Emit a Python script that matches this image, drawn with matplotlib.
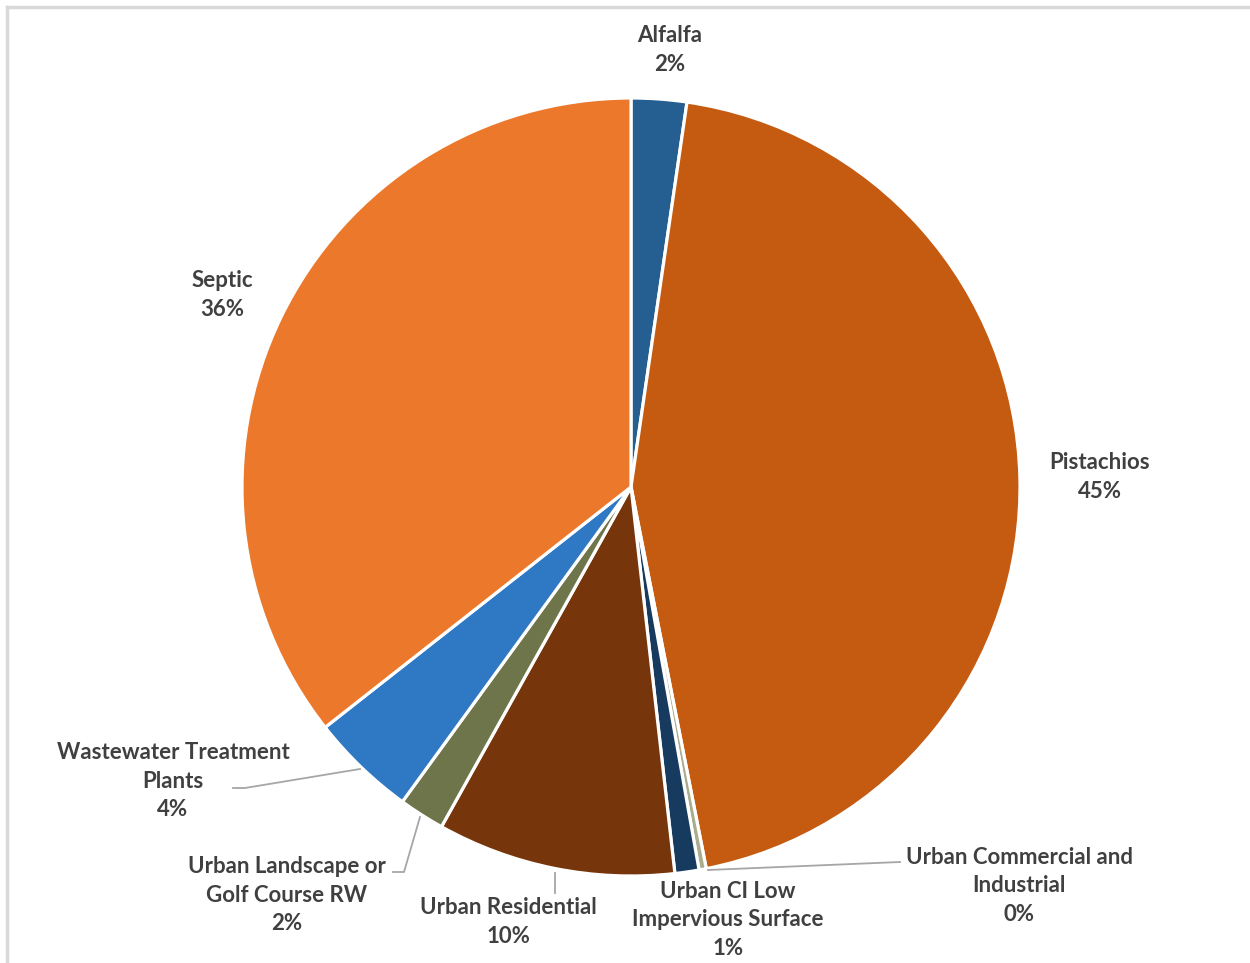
import matplotlib.pyplot as plt
from matplotlib.lines import Line2D

# data (percent share)
categories = ["Alfalfa", "Pistachios", "Urban Commercial and\nIndustrial",
              "Urban CI Low\nImpervious Surface", "Urban Residential",
              "Urban Landscape or\nGolf Course RW", "Wastewater Treatment\nPlants", "Septic"]
shares = [2.3, 44.6, 0.3, 1.0, 9.9, 1.9, 4.4, 35.6]
colors = ["#255E91", "#C55A11", "#A9AD8C", "#173B5E", "#77350B", "#6F754A", "#2E78C4", "#EB782B"]

# label centers in pixels (x, y from top)
label_pos = [(670, 50), (1100, 477), (1019, 886), (728, 920), (508, 922),
             (287, 895), (173, 781), (222, 295)]

W, H = 1250, 963
fig = plt.figure(figsize=(12.5, 9.63), dpi=100)
ax = fig.add_axes([0, 0, 1, 1])

ax.pie(shares, colors=colors, startangle=90, counterclock=False,
       center=(631, H - 487), radius=389, frame=True,
       wedgeprops=dict(edgecolor="white", linewidth=2.3))
ax.set_xlim(0, W)
ax.set_ylim(0, H)
ax.axis("off")

for name, val, (x, y) in zip(categories, shares, label_pos):
    ax.text(x, H - y, f"{name}\n{round(val):.0f}%", ha="center", va="center",
            fontsize=16, fontweight="bold", color="#404040", family="Lato",
            linespacing=1.42)

# leader lines
leaders = [
    [(708, 870), (900, 862)],
    [(360, 769), (245, 788), (233, 788)],
    [(420, 817), (404, 872), (393, 872)],
    [(555, 873), (555, 893)],
]
for pts in leaders:
    xs = [p[0] for p in pts]
    ys = [H - p[1] for p in pts]
    ax.plot(xs, ys, color="#A6A6A6", lw=1.3)

# chart frame (left/top edges visible)
fig.add_artist(Line2D([7 / W, 7 / W], [0, 1 - 7 / H], color="#D9D9D9", lw=2.5, transform=fig.transFigure))
fig.add_artist(Line2D([7 / W, 1], [1 - 7 / H, 1 - 7 / H], color="#D9D9D9", lw=2.5, transform=fig.transFigure))

fig.savefig("out.png", dpi=100)
